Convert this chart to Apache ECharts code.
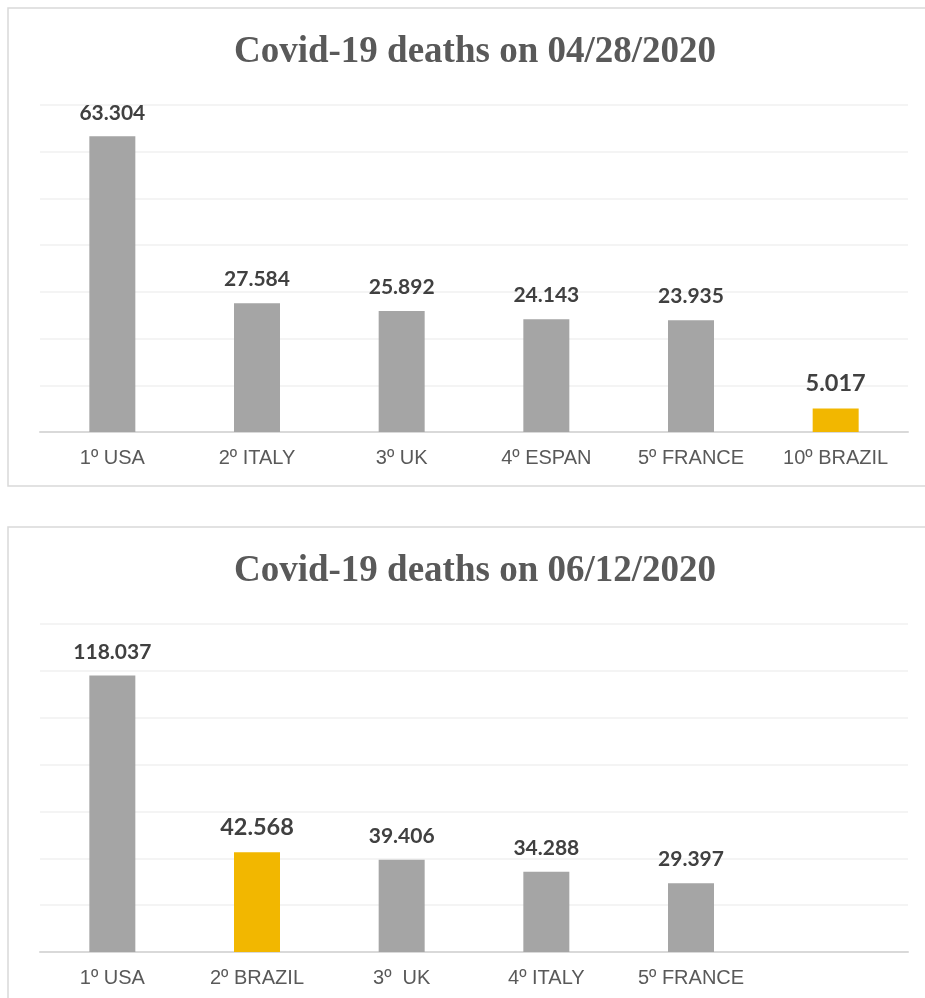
<!DOCTYPE html>
<html>
<head>
<meta charset="utf-8">
<script src="https://cdn.jsdelivr.net/npm/echarts@6/dist/echarts.min.js"></script>
<style>
html,body{margin:0;padding:0;background:#fff;}
#chart{width:925px;height:998px;}
</style>
</head>
<body>
<div id="chart"></div>
<script>
var title1 = 'Covid-19 deaths on 04/28/2020';
var categories1 = ['1º USA', '2º ITALY', '3º UK', '4º ESPAN', '5º FRANCE', '10º BRAZIL'];
var values1 = [63304, 27584, 25892, 24143, 23935, 5017];

var title2 = 'Covid-19 deaths on 06/12/2020';
var categories2 = ['1º USA', '2º BRAZIL', '3º  UK', '4º ITALY', '5º FRANCE', ''];
var values2 = [118037, 42568, 39406, 34288, 29397];

var highlightKey = 'BRAZIL';

function fmt(v) {
  return String(v).replace(/\B(?=(\d{3})+(?!\d))/g, '.');
}
function buildData(cats, vals) {
  return vals.map(function (v, i) {
    var hi = cats[i].indexOf(highlightKey) >= 0;
    return {
      value: v,
      itemStyle: { color: hi ? '#F2B700' : '#A5A5A5' },
      label: { fontSize: hi ? 23.5 : 21 }
    };
  });
}

var chart = echarts.init(document.getElementById('chart'), null, { renderer: 'canvas' });

var xAxisCommon = {
  type: 'category',
  axisLine: { show: true, lineStyle: { color: '#D9D9D9', width: 2 } },
  axisTick: { show: false },
  axisLabel: { color: '#595959', fontFamily: 'Liberation Sans', fontSize: 20, margin: 16 }
};
var yAxisCommon = {
  type: 'value',
  axisLabel: { show: false },
  axisLine: { show: false },
  axisTick: { show: false },
  splitLine: { show: true, lineStyle: { color: '#F0F0F0', width: 1.5 } }
};
var labelCommon = {
  show: true,
  position: 'top',
  distance: 13,
  color: '#404040',
  fontFamily: 'Lato',
  fontWeight: 'bold',
  formatter: function (p) { return fmt(p.value); }
};

chart.setOption({
  animation: false,
  backgroundColor: '#fff',
  graphic: [
    { type: 'rect', shape: { x: 8, y: 8, width: 934, height: 478 }, style: { fill: 'none', stroke: '#D9D9D9', lineWidth: 1.5 }, z: -1 },
    { type: 'rect', shape: { x: 8, y: 527, width: 934, height: 500 }, style: { fill: 'none', stroke: '#D9D9D9', lineWidth: 1.5 }, z: -1 },
    { type: 'text', x: 475, y: 52, style: { text: title1, fill: '#595959', font: 'bold 37px "Liberation Serif"', textAlign: 'center', textVerticalAlign: 'middle' } },
    { type: 'text', x: 475, y: 571, style: { text: title2, fill: '#595959', font: 'bold 37px "Liberation Serif"', textAlign: 'center', textVerticalAlign: 'middle' } }
  ],
  grid: [
    { left: 40, top: 105, width: 868, height: 327 },
    { left: 40, top: 624, width: 868, height: 328 }
  ],
  xAxis: [
    Object.assign({ gridIndex: 0, data: categories1 }, xAxisCommon),
    Object.assign({ gridIndex: 1, data: categories2 }, xAxisCommon)
  ],
  yAxis: [
    Object.assign({ gridIndex: 0, min: 0, max: 70000, interval: 10000 }, yAxisCommon),
    Object.assign({ gridIndex: 1, min: 0, max: 140000, interval: 20000 }, yAxisCommon)
  ],
  series: [
    { type: 'bar', xAxisIndex: 0, yAxisIndex: 0, barWidth: 46, data: buildData(categories1, values1), label: labelCommon },
    { type: 'bar', xAxisIndex: 1, yAxisIndex: 1, barWidth: 46, data: buildData(categories2, values2), label: labelCommon }
  ]
});
</script>
</body>
</html>
